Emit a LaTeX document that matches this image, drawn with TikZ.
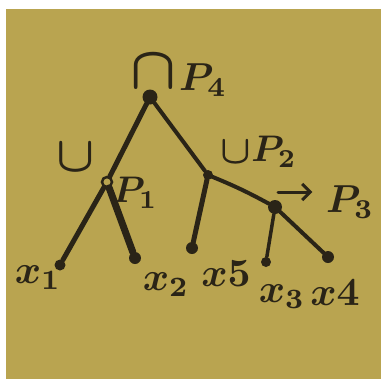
\documentclass[tikz,border=0pt]{standalone}
\usepackage{amsmath,amssymb}
\usetikzlibrary{arrows.meta}
\definecolor{Paper}{HTML}{B9A450}
\definecolor{Ink}{HTML}{2A2417}

\begin{document}
\begin{tikzpicture}[x=1pt,y=-1pt,>=Latex,
  lab/.style={text=Ink,font=\boldmath,scale=#1},
  lab/.default=3.7,
  inkdot/.style={circle,fill=Ink,inner sep=0pt,minimum size=#1},
  hollowdot/.style={circle,draw=Ink,line width=2.5pt,fill=Paper,inner sep=0pt,minimum size=#1},
  branch/.style={draw=Ink,line width=#1,line cap=round}]
\useasboundingbox (0,0) rectangle (384,389);
\fill[white] (0,0) rectangle (384,389);
\fill[Paper] (6,9) rectangle (381,379);
% inner points of the tree
\node[inkdot=15pt] (root) at (150,97) {};
\node[hollowdot=10pt] (p1) at (107,182) {};
\node[inkdot=10pt] (p2) at (208,175) {};
\node[inkdot=14pt] (p3) at (275,207) {};
% leaves
\node[inkdot=11pt] (x1) at (60,265) {};
\node[inkdot=12pt] (x2) at (135,258) {};
\node[inkdot=12pt] (x5) at (192,248) {};
\node[inkdot=10pt] (x3) at (266,262) {};
\node[inkdot=12pt] (x4) at (328,257) {};
% labels
\node[lab=6] (capP4) at (153,72) {$\cap$};
\node[lab=3.9] (labP4) at (203,80) {$P_4$};
\node[lab=5] (cupP1) at (76,158) {$\cup$};
\node[lab] (labP1) at (135,193) {$P_1$};
\node[lab=4] (cupP2) at (236,152) {$\cup$};
\node[lab] (labP2) at (274,152) {$P_2$};
\node[lab=3.9] (labP3) at (350,202) {$P_3$};
\node[lab=4] (labx1) at (38,278) {$x_1$};
\node[lab=4] (labx2) at (166,285) {$x_2$};
\node[lab=4] (labx5) at (226,274) {$x5$};
\node[lab=4] (labx3) at (282,297) {$x_3$};
\node[lab=4] (labx4) at (335,293) {$x4$};
\coordinate (arrtail) at (278,192);
% branches
\draw[branch=5pt] (root) -- (p1);
\draw[branch=5pt] (p1) -- (x1);
\draw[branch=7pt] (p1) -- (x2);
\draw[branch=4pt] (root) -- (p2);
\draw[branch=5pt] (p2) -- (x5);
\draw[branch=4pt] (p2) to[bend left=3] (p3);
\draw[branch=3.5pt] (p3) -- (x3);
\draw[branch=4pt] (p3) -- (x4);
\draw[branch=3pt,-{Straight Barb[length=8pt,width=16pt]}] (arrtail) -- (labP3.west|-arrtail);
\end{tikzpicture}
\end{document}
